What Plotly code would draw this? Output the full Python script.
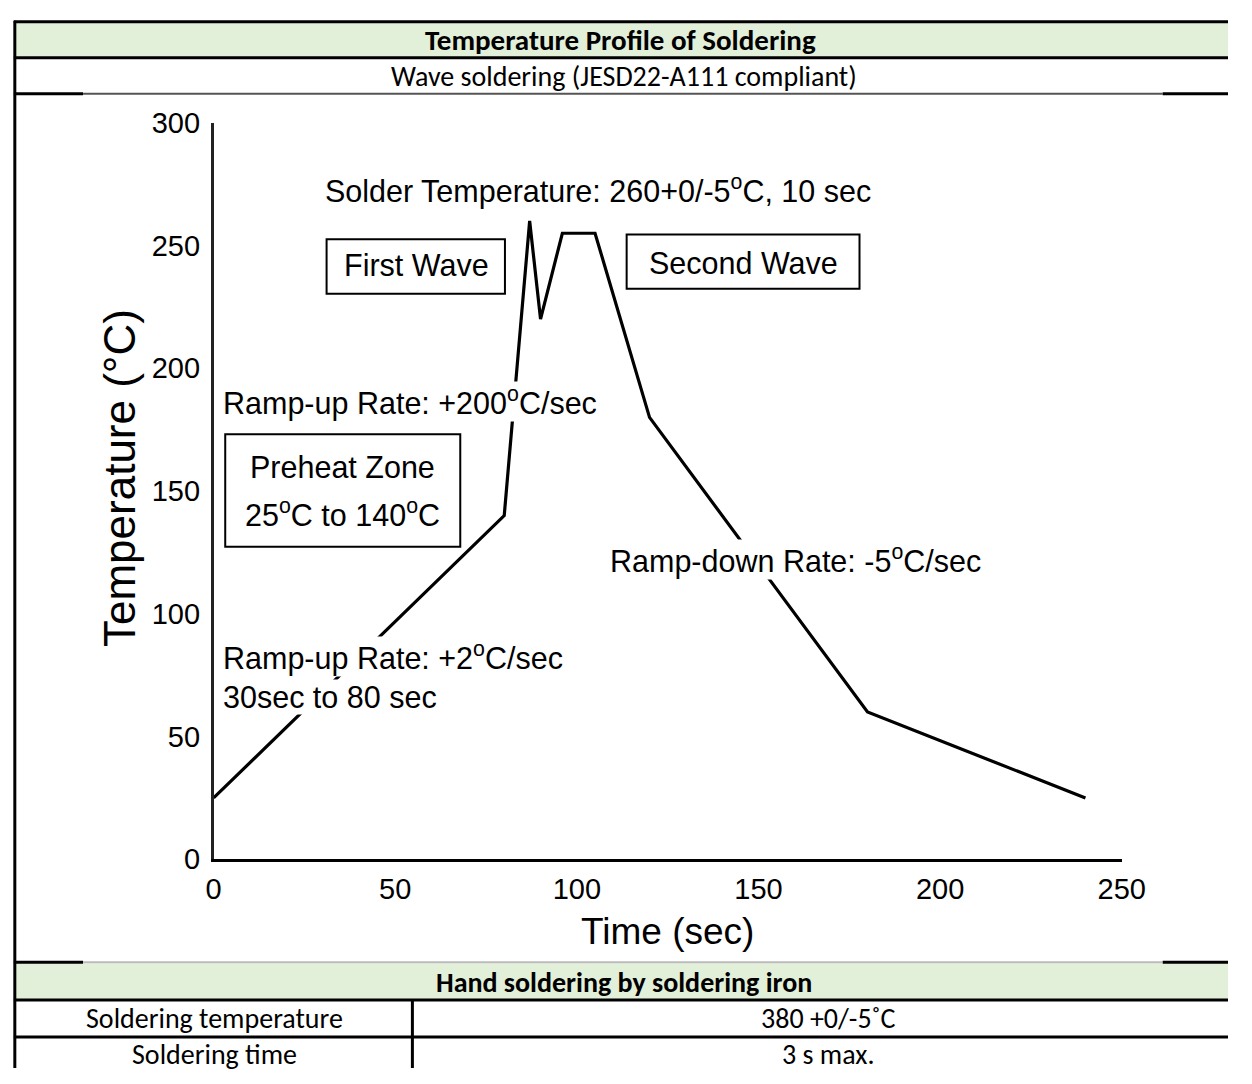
import plotly.graph_objects as go

# ---- data ----
time_s = [0, 80, 87, 90, 96, 105, 120, 180, 240]
temp_c = [25, 140, 260, 220, 255, 255, 180, 60, 25]
x_ticks = [0, 50, 100, 150, 200, 250]
y_ticks = [0, 50, 100, 150, 200, 250, 300]

title_main = "Temperature Profile of Soldering"
title_sub = "Wave soldering (JESD22-A111 compliant)"
hand_title = "Hand soldering by soldering iron"
hand_rows = ["Soldering temperature", "Soldering time"]
hand_vals = ["380 +0/-5˚C", "3 s max."]

W, H = 1252, 1084
CHART_FONT = "Liberation Sans, Arial, sans-serif"
TABLE_FONT = "Carlito, Lato, sans-serif"
GREEN = "#E2EFD9"


def px(x):
    return x / W


def py(y):
    return 1 - y / H


fig = go.Figure()
fig.add_trace(go.Scatter(
    x=time_s, y=temp_c, mode="lines",
    line=dict(color="black", width=3.2),
    hoverinfo="skip", showlegend=False,
))

fig.update_layout(
    width=W, height=H,
    margin=dict(l=0, r=0, t=0, b=0),
    paper_bgcolor="white", plot_bgcolor="white",
    xaxis=dict(
        domain=[px(211), px(1143)], range=[0, 250], tickvals=x_ticks,
        showline=True, linecolor="black", linewidth=3,
        showgrid=False, zeroline=False, ticks="",
        tickfont=dict(family=CHART_FONT, size=29, color="black"),
        ticklabelstandoff=2,
    ),
    yaxis=dict(
        domain=[py(869), py(110)], range=[0, 300], tickvals=y_ticks,
        showline=True, linecolor="#222", linewidth=2.5,
        showgrid=False, zeroline=False, ticks="",
        tickfont=dict(family=CHART_FONT, size=29, color="black"),
        ticklabelstandoff=5,
    ),
)

shapes = []
# green header fills
shapes.append(dict(type="rect", xref="paper", yref="paper", x0=px(7), x1=1, y0=py(43), y1=py(6),
                   fillcolor=GREEN, line=dict(width=0), layer="below"))
shapes.append(dict(type="rect", xref="paper", yref="paper", x0=px(7), x1=1, y0=py(1014), y1=py(976),
                   fillcolor=GREEN, line=dict(width=0), layer="below"))


def hline(y, x0, x1, color="black", w=3):
    shapes.append(dict(type="line", xref="paper", yref="paper", x0=px(x0), x1=px(x1), y0=py(y), y1=py(y),
                       line=dict(color=color, width=w)))


def vline(x, y0, y1, color="black", w=3):
    shapes.append(dict(type="line", xref="paper", yref="paper", x0=px(x), x1=px(x), y0=py(y0), y1=py(y1),
                       line=dict(color=color, width=w)))


hline(6, 6, 1252)
hline(43, 6, 1252)
hline(80, 6, 77)
hline(80, 77, 1185, color="#555", w=2)
hline(80, 1185, 1252)
hline(975, 6, 77)
hline(975, 77, 1185, color="#bbb", w=2)
hline(975, 1185, 1252)
hline(1014, 6, 1252)
hline(1052, 6, 1252)
vline(7, 5, 1084)
vline(415, 1014, 1084)

# boxes in the chart (data coordinates)
box_style = dict(type="rect", xref="x", yref="y", line=dict(color="black", width=2), fillcolor="rgba(0,0,0,0)")
shapes.append(dict(box_style, x0=31.1, x1=80.2, y0=230.4, y1=252.6))
shapes.append(dict(box_style, x0=113.7, x1=177.8, y0=232.4, y1=254.5))
shapes.append(dict(box_style, x0=3.2, x1=67.9, y0=127.3, y1=173.1))
fig.update_layout(shapes=shapes)

ann = []
tf = dict(family=CHART_FONT, size=30.5, color="black")


def note(text, x, y, xanchor="left", bg=True):
    a = dict(text=text, x=x, y=y, xref="x", yref="y", xanchor=xanchor, yanchor="middle",
             showarrow=False, font=tf, borderpad=0)
    if bg:
        a["bgcolor"] = "white"
    ann.append(a)


note("Solder Temperature: 260+0/-5<sup>o</sup>C, 10 sec", 30.3, 273)
note("First Wave", 55.8, 241.9, xanchor="center", bg=False)
note("Second Wave", 145.9, 243, xanchor="center", bg=False)
note("Ramp-up Rate: +200<sup>o</sup>C/sec", 2.4, 186.6)
note("Preheat Zone", 35.4, 159.7, xanchor="center", bg=False)
note("25<sup>o</sup>C to 140<sup>o</sup>C", 35.4, 141.1, xanchor="center", bg=False)
note("Ramp-down Rate: -5<sup>o</sup>C/sec", 108.9, 122.1)
note("Ramp-up Rate: +2<sup>o</sup>C/sec", 2.4, 82.6)
note("30sec to 80 sec", 2.4, 66)

# axis titles
ann.append(dict(text="Temperature (°C)", x=px(115), y=py(476), xref="paper", yref="paper",
                xanchor="center", yanchor="middle",
                textangle=-90, showarrow=False, font=dict(family=CHART_FONT, size=44, color="black")))
ann.append(dict(text="Time (sec)", x=px(677), y=py(943), xref="paper", yref="paper",
                xanchor="center", yanchor="middle",
                showarrow=False, font=dict(family=CHART_FONT, size=37, color="black")))


def cell(text, xc, yc, bold=False, size=28):
    ann.append(dict(text=f"<b>{text}</b>" if bold else text, x=px(xc), y=py(yc), xref="paper", yref="paper",
                    xanchor="center", yanchor="middle", showarrow=False,
                    font=dict(family=TABLE_FONT, size=size, color="black")))


cell(title_main, 629, 25, bold=True, size=29)
cell(title_sub, 632, 62)
cell(hand_title, 632, 996, bold=True)
cell(hand_rows[0], 212, 1033)
cell(hand_vals[0], 842, 1033)
cell(hand_rows[1], 212, 1070)
cell(hand_vals[1], 842, 1070)

fig.update_layout(annotations=ann)

fig.write_html(
    "out.html",
    config={"displayModeBar": False},
    post_script=(
        "document.body.style.margin='0';"
        "document.body.style.overflow='hidden';"
    ),
)
